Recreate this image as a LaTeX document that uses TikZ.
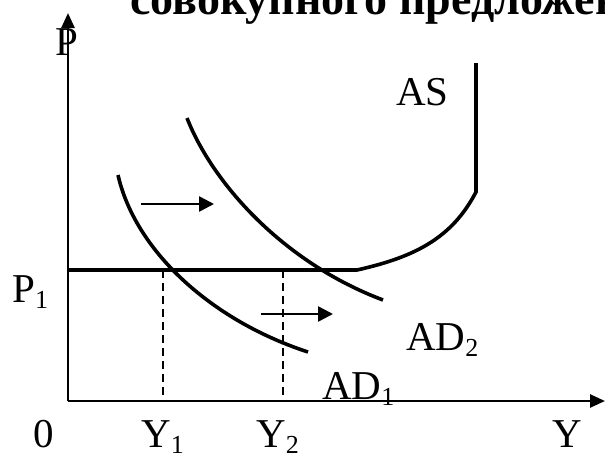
\documentclass[tikz,border=0pt]{standalone}
\usepackage{fontspec}
\setmainfont{Liberation Serif}
\usetikzlibrary{arrows.meta}
\newcommand{\lsub}[1]{\raisebox{-6pt}{\fontsize{26}{26}\selectfont #1}}
\begin{document}
\begin{tikzpicture}[x=1pt,y=-1pt,
  lbl/.style={inner sep=0pt, anchor=base west, font=\fontsize{41}{41}\selectfont},
  ttl/.style={inner sep=0pt, anchor=base west, font=\bfseries\fontsize{46}{46}\selectfont},
  curve/.style={line width=3.6pt},
  axis/.style={line width=2.6pt, -{Triangle[length=15pt,width=13pt]}},
  shiftarrow/.style={line width=2.6pt, -{Triangle[length=15pt,width=15pt]}},
  guide/.style={line width=1.6pt, dash pattern=on 8pt off 5pt}]
\useasboundingbox (0,0) rectangle (605,453);
\clip (0,0) rectangle (605,453);
% title (cut off)
\node[ttl] (title) at (130,14) {совокупного предложения};
% axes
\coordinate (O) at (68,401);
\coordinate (ytip) at (68,13);
\coordinate (xtip) at (605,401);
\draw[axis] (O) -- (ytip);
\draw[axis] (O) -- (xtip);
% guides
\coordinate (g1t) at (163,270); \coordinate (g1b) at (163,401);
\coordinate (g2t) at (283,270); \coordinate (g2b) at (283,401);
\draw[guide] (g1t) -- (g1b);
\draw[guide] (g2t) -- (g2b);
% AS
\coordinate (as0) at (68,270);
\coordinate (as1) at (357,270);
\coordinate (as2) at (476,192);
\coordinate (as3) at (476,63);
\draw[curve] (as0) -- (as1) .. controls (415,257) and (452,238) .. (as2) -- (as3);
% AD1
\coordinate (ad1a) at (118,175);
\coordinate (ad1b) at (308,352);
\draw[curve] (ad1a) .. controls (135,250) and (210,320) .. (ad1b);
% AD2
\coordinate (ad2a) at (187,118);
\coordinate (ad2b) at (383,300);
\draw[curve] (ad2a) .. controls (212,182) and (282,262) .. (ad2b);
% shift arrows
\coordinate (s1a) at (141,204); \coordinate (s1b) at (214,204);
\coordinate (s2a) at (261,314); \coordinate (s2b) at (333,314);
\draw[shiftarrow] (s1a) -- (s1b);
\draw[shiftarrow] (s2a) -- (s2b);
% labels
\node[lbl] (P) at (55,55) {P};
\node[lbl] (AS) at (396,105) {AS};
\node[lbl] (P1) at (12,302) {P\lsub{1}};
\node[lbl] (AD2) at (406,350) {AD\lsub{2}};
\node[lbl] (AD1) at (322,399) {AD\lsub{1}};
\node[lbl] (zero) at (33,447) {0};
\node[lbl] (Y1) at (141,447) {Y\lsub{1}};
\node[lbl] (Y2) at (256,447) {Y\lsub{2}};
\node[lbl] (Y) at (552,447) {Y};
\end{tikzpicture}
\end{document}
